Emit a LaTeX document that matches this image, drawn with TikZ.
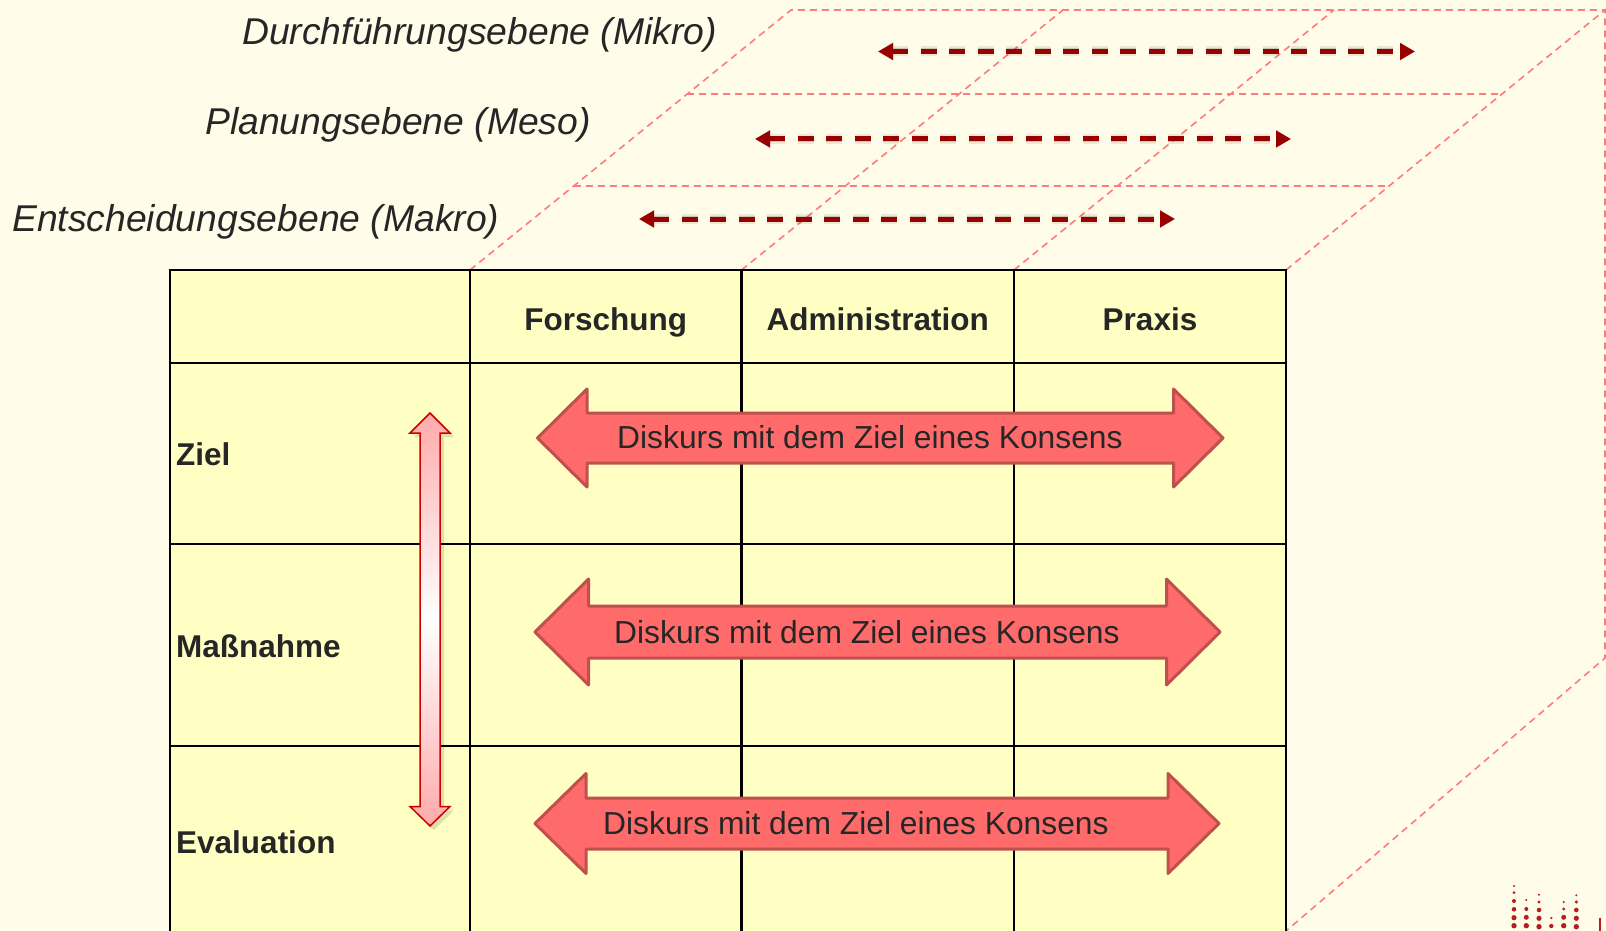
\documentclass[tikz,border=0pt]{standalone}
\usepackage{fontspec}
\setmainfont{Liberation Sans}
\usetikzlibrary{arrows.meta,calc}
\definecolor{bgc}{HTML}{FFFDE9}
\definecolor{cellc}{HTML}{FFFFC4}
\definecolor{cubec}{HTML}{FF7B7B}
\definecolor{darr}{HTML}{990000}
\definecolor{bigfill}{HTML}{FF6B6B}
\definecolor{bigdraw}{HTML}{C0504D}
\definecolor{txt}{HTML}{262626}
\definecolor{vred}{HTML}{CC0000}
\definecolor{vpink}{HTML}{FFAAAA}
\definecolor{logoc}{HTML}{B51F1F}
\newcommand{\mybigarrow}[6]{%
 \draw[bigarr] (#1,#3) -- ({#1+#6},{#3-#5}) -- ({#1+#6},{#3-#4}) -- ({#2-#6},{#3-#4})
 -- ({#2-#6},{#3-#5}) -- (#2,#3) -- ({#2-#6},{#3+#5}) -- ({#2-#6},{#3+#4})
 -- ({#1+#6},{#3+#4}) -- ({#1+#6},{#3+#5}) -- cycle;}
\begin{document}
\begin{tikzpicture}[x=1pt,y=-1pt,
  cubeline/.style={draw=cubec, line width=1.6pt, dash pattern=on 7pt off 5pt},
  darrow/.style={draw=darr, line width=5pt, dash pattern=on 16pt off 12.5pt,
     {Triangle[length=15pt,width=16pt]}-{Triangle[length=15pt,width=16pt]}},
  dshadow/.style={draw=black, line width=#1, dash pattern=on 16pt off 12.5pt,
     {Triangle[length=15pt,width=17pt]}-{Triangle[length=15pt,width=17pt]}},
  tbl/.style={draw=black, line width=2.7pt},
  bigarr/.style={fill=bigfill, draw=bigdraw, line width=3pt, line join=round},
  lvl/.style={font=\fontsize{37.3}{40}\selectfont\itshape, text=txt, inner sep=0pt, anchor=base west},
  hdr/.style={font=\fontsize{31.5}{36}\selectfont\bfseries, text=txt, inner sep=0pt, anchor=base},
  rowl/.style={font=\fontsize{31.5}{36}\selectfont\bfseries, text=txt, inner sep=0pt, anchor=base west},
  disk/.style={font=\fontsize{31.8}{36}\selectfont, text=txt, inner sep=0pt, anchor=base west},
  dot/.style={fill=logoc, draw=none}
]
\useasboundingbox (0,0) rectangle (1606,931);
\clip (0,0) rectangle (1606,931);
\fill[bgc] (0,0) rectangle (1606,931);

% cube coordinates
\coordinate (F0) at (470,270);  \coordinate (B0) at (791,10);
\coordinate (F1) at (741.5,270);\coordinate (B1) at (1063,10);
\coordinate (F2) at (1014,270); \coordinate (B2) at (1334,10);
\coordinate (F3) at (1286,270); \coordinate (B3) at (1605,10);
\coordinate (R1) at (1605,658); \coordinate (R0) at (1286,931);
\draw[cubeline] (F0) -- (B0) -- (B3);
\draw[cubeline] (F1) -- (B1);
\draw[cubeline] (F2) -- (B2);
\draw[cubeline] (F3) -- (B3) -- (R1) -- (R0);
\draw[cubeline] ($(F0)!0.677!(B0)$) -- ($(F3)!0.677!(B3)$);
\draw[cubeline] ($(F0)!0.323!(B0)$) -- ($(F3)!0.323!(B3)$);

% dashed level arrows
\coordinate (miL) at (878,51.5);  \coordinate (miR) at (1415,51.5);
\coordinate (meL) at (755,139);   \coordinate (meR) at (1291,139);
\coordinate (maL) at (639,219);   \coordinate (maR) at (1175,219);
\foreach \a/\b in {miL/miR, meL/meR, maL/maR}{
  \begin{scope}[shift={(2,6)}]
    \draw[dshadow=10pt, opacity=0.08] (\a) -- (\b);
    \draw[dshadow=6pt, opacity=0.14] (\a) -- (\b);
  \end{scope}
  \draw[darrow] (\a) -- (\b);
}

% level labels
\node[lvl] (mikro) at (242,45) {Durchführungsebene (Mikro)};
\node[lvl] (meso) at (205,135) {Planungsebene (Meso)};
\node[lvl] (makro) at (12,231.5) {Entscheidungsebene (Makro)};

% table
\fill[cellc] (170,270) rectangle (1286,940);
\draw[tbl] (170,945) -- (170,270) -- (1286,270) -- (1286,945);
\foreach \x in {470,741.5,1014} \draw[tbl] (\x,270) -- (\x,945);
\foreach \y in {363,544,746} \draw[tbl] (170,\y) -- (1286,\y);

\node[hdr] (forsch) at (605.75,330) {Forschung};
\node[hdr] (admin) at (877.75,330) {Administration};
\node[hdr] (praxis) at (1150,330) {Praxis};

\node[rowl] (ziel) at (176,465.5) {Ziel};
\node[rowl] (mass) at (176,657.5) {Maßnahme};
\node[rowl] (eval) at (176,853) {Evaluation};

% vertical double arrow
\begin{scope}[shift={(4,4)}]
\fill[black, opacity=0.12] (430,413) -- (450,433) -- (440,433) -- (440,806.5) -- (450,806.5) -- (430,826)
  -- (410,806.5) -- (420,806.5) -- (420,433) -- (410,433) -- cycle;
\end{scope}
\draw[vred, line width=1.5pt, top color=vpink, bottom color=vpink, middle color=white]
  (430,413) -- (450,433) -- (440,433) -- (440,806.5) -- (450,806.5) -- (430,826)
  -- (410,806.5) -- (420,806.5) -- (420,433) -- (410,433) -- cycle;

% big arrows
\mybigarrow{537.5}{1223}{438}{25}{49}{49.5}
\mybigarrow{535}{1220}{632}{26}{53}{53.5}
\mybigarrow{535}{1219}{823.5}{25.5}{50}{51}
\node[disk] (d1) at (617,448.5) {Diskurs mit dem Ziel eines Konsens};
\node[disk] (d2) at (614,643.5) {Diskurs mit dem Ziel eines Konsens};
\node[disk] (d3) at (603,834.5) {Diskurs mit dem Ziel eines Konsens};

% logo fragment
\foreach \y/\r in {886/1.1, 892.7/1.5, 901/2, 909.3/2.3, 917.7/2.6, 925.7/2.7} \fill[dot] (1514,\y) circle (\r);
\foreach \y/\r in {900/1.1, 909/2, 917.3/2.5, 925.7/2.7} \fill[dot] (1526.3,\y) circle (\r);
\foreach \y/\r in {894.7/1.1, 902/1.7, 910/2.3, 918.3/2.6, 926.7/2.7} \fill[dot] (1539,\y) circle (\r);
\foreach \y/\r in {918/1.2, 926/2.2} \fill[dot] (1551.3,\y) circle (\r);
\foreach \y/\r in {902/1.1, 909/1.7, 917.3/2.5, 925.7/2.7} \fill[dot] (1563.7,\y) circle (\r);
\foreach \y/\r in {895.3/1.1, 902/1.7, 910/2.3, 918.3/2.6, 926.7/2.7} \fill[dot] (1576.3,\y) circle (\r);
\fill[logoc] (1598.7,917.7) rectangle (1601.3,931);
\end{tikzpicture}
\end{document}
